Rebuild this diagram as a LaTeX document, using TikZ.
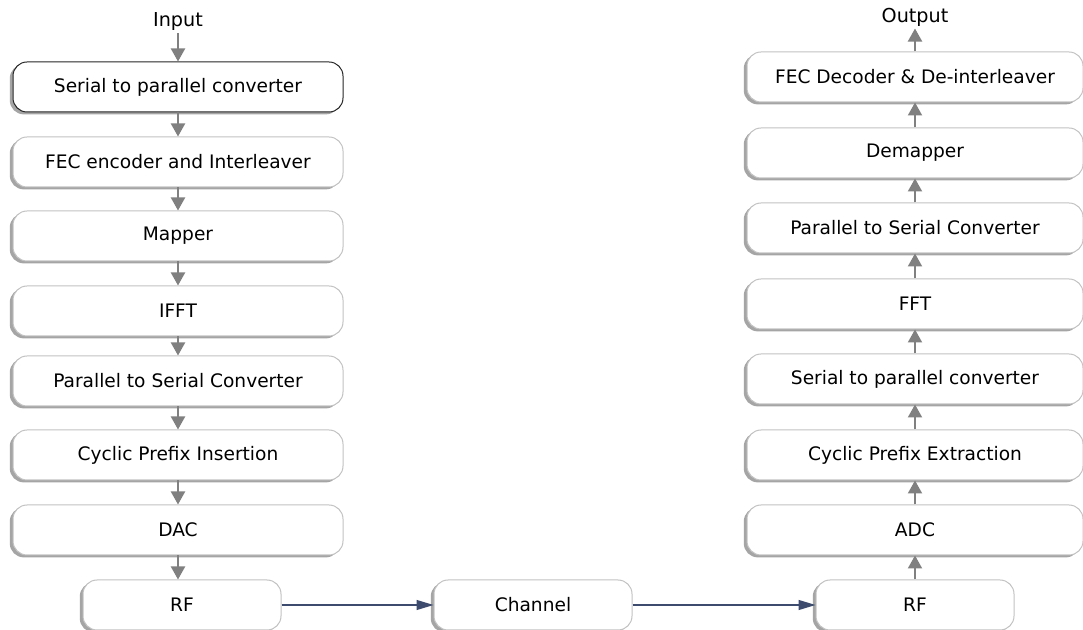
\documentclass[tikz,border=0pt]{standalone}
\usepackage{fontspec}
\setmainfont{DejaVu Sans}
\usepackage{xcolor}
\usepackage{tikz}
\usetikzlibrary{arrows.meta,shadows}
\definecolor{edge}{HTML}{C2C2C2}
\definecolor{shade}{HTML}{8E8E8E}
\definecolor{flow}{HTML}{808080}
\definecolor{link}{HTML}{3D4B6E}
\tikzset{
  block/.style={draw=edge, fill=white, line width=0.5pt, rounded corners=7pt,
    minimum height=25pt, inner sep=0pt, font=\fontsize{9.3}{11}\selectfont,
    drop shadow={shadow xshift=-1.6pt, shadow yshift=-1.2pt, fill=shade, opacity=0.8}},
  wideblock/.style={block, minimum width=165pt},
  rxblock/.style={block, minimum width=168pt},
  shortblock/.style={block, minimum width=99pt},
  flowarrow/.style={draw=flow, line width=1pt, -{Triangle[length=6.5pt,width=7pt]}},
  linkarrow/.style={draw=link, line width=0.6pt, -{Triangle[length=8.5pt,width=5pt]}},
  lab/.style={font=\fontsize{9.6}{11}\selectfont, inner sep=1pt},
}
\begin{document}
\begin{tikzpicture}[x=0.5pt, y=-0.5pt]
  \useasboundingbox (0,0) rectangle (1083,630);

  % transmitter chain
  \node[lab] (in) at (178,22) {Input};
  \node[wideblock, draw=black!85] (sp) at (178,87) {Serial to parallel converter};
  \node[wideblock] (fec) at (178,162) {FEC encoder and Interleaver};
  \node[wideblock] (map) at (178,236) {Mapper};
  \node[wideblock] (ifft) at (178,311) {IFFT};
  \node[wideblock] (ps) at (178,381) {Parallel to Serial Converter};
  \node[wideblock] (cpi) at (178,455) {Cyclic Prefix Insertion};
  \node[wideblock] (dac) at (178,530) {DAC};
  \node[shortblock] (rftx) at (182,605) {RF};

  \draw[flowarrow] (in) -- (sp);
  \draw[flowarrow] (sp) -- (fec);
  \draw[flowarrow] (fec) -- (map);
  \draw[flowarrow] (map) -- (ifft);
  \draw[flowarrow] (ifft) -- (ps);
  \draw[flowarrow] (ps) -- (cpi);
  \draw[flowarrow] (cpi) -- (dac);
  \draw[flowarrow] (dac.south) -- (dac.south |- rftx.north);

  % channel
  \node[shortblock] (ch) at (533,605) {Channel};
  \node[shortblock] (rfrx) at (915,605) {RF};
  \draw[linkarrow] (rftx) -- (ch);
  \draw[linkarrow] (ch) -- (rfrx);

  % receiver chain
  \node[rxblock] (adc) at (915,530) {ADC};
  \node[rxblock] (cpe) at (915,455) {Cyclic Prefix Extraction};
  \node[rxblock] (spr) at (915,379) {Serial to parallel converter};
  \node[rxblock] (fft) at (915,304) {FFT};
  \node[rxblock] (psr) at (915,228) {Parallel to Serial Converter};
  \node[rxblock] (dmap) at (915,153) {Demapper};
  \node[rxblock] (fecd) at (915,77) {FEC Decoder \& De-interleaver};
  \node[lab] (out) at (915,17) {Output};

  \draw[flowarrow] (rfrx) -- (adc);
  \draw[flowarrow] (adc) -- (cpe);
  \draw[flowarrow] (cpe) -- (spr);
  \draw[flowarrow] (spr) -- (fft);
  \draw[flowarrow] (fft) -- (psr);
  \draw[flowarrow] (psr) -- (dmap);
  \draw[flowarrow] (dmap) -- (fecd);
  \draw[flowarrow] (fecd) -- (out);

\end{tikzpicture}
\end{document}
